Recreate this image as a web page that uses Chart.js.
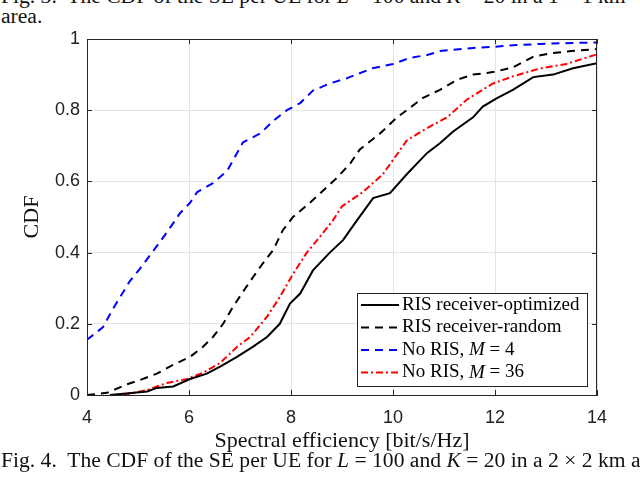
<!DOCTYPE html>
<html>
<head>
<meta charset="utf-8">
<script src="https://cdn.jsdelivr.net/npm/chart.js@4"></script>
<style>
  body { margin: 0; background: #fff; }
  #wrap { position: relative; width: 640px; height: 478px; overflow: hidden; }
  #cv { position: absolute; left: 0; top: 0; }
  .cap { position: absolute; left: 1px; white-space: nowrap; font-family: "Liberation Serif", serif; font-size: 21.6px; color: #111; }
</style>
</head>
<body>
<div id="wrap">
  <div class="cap" style="top:-16px">Fig. 3.&nbsp; The CDF of the SE per UE for <i>L</i> = 100 and <i>K</i> = 20 in a 1 × 1 km</div>
  <div class="cap" style="top:4px">area.</div>
  <canvas id="cv" width="640" height="478"></canvas>
  <div class="cap" style="top:448px">Fig. 4.&nbsp; The CDF of the SE per UE for <i>L</i> = 100 and <i>K</i> = 20 in a 2 × 2 km area.</div>
</div>
<script>
// values
const xOpt = [4.45, 5.18, 5.37, 5.69, 6.02, 6.35, 6.61, 6.94, 7.25, 7.53, 7.78, 7.98, 8.18, 8.43, 8.76, 9.02, 9.29, 9.61, 9.94, 10.27, 10.67, 10.92, 11.18, 11.57, 11.76, 12.04, 12.35, 12.75, 13.14, 13.53, 14];
const yOpt = [0, 0.01, 0.02, 0.024, 0.045, 0.06, 0.08, 0.107, 0.135, 0.163, 0.2, 0.257, 0.285, 0.35, 0.40, 0.435, 0.49, 0.553, 0.567, 0.62, 0.68, 0.707, 0.74, 0.78, 0.81, 0.834, 0.857, 0.893, 0.9, 0.918, 0.932];

const xRand = [4, 4.39, 4.78, 5.04, 5.37, 5.69, 6.02, 6.27, 6.47, 6.67, 6.86, 7.06, 7.25, 7.45, 7.65, 7.84, 8.04, 8.37, 8.9, 9.16, 9.35, 9.75, 10.08, 10.27, 10.59, 10.92, 11.25, 11.57, 11.96, 12.35, 12.75, 13.1, 13.5, 14];
const yRand = [0, 0.006, 0.03, 0.042, 0.06, 0.085, 0.107, 0.135, 0.163, 0.2, 0.247, 0.29, 0.33, 0.37, 0.407, 0.463, 0.5, 0.54, 0.61, 0.65, 0.69, 0.735, 0.78, 0.80, 0.835, 0.857, 0.885, 0.90, 0.907, 0.92, 0.95, 0.96, 0.966, 0.972];

const xM4 = [4, 4.31, 4.5, 4.84, 5.04, 5.43, 5.63, 5.82, 6.02, 6.16, 6.47, 6.75, 7.06, 7.4, 7.65, 7.92, 8.18, 8.43, 8.76, 9.1, 9.6, 10.0, 10.33, 10.67, 10.92, 11.57, 11.96, 12.43, 12.88, 13.53, 14];
const yM4 = [0.155, 0.19, 0.24, 0.32, 0.355, 0.43, 0.47, 0.51, 0.54, 0.57, 0.595, 0.63, 0.71, 0.735, 0.77, 0.80, 0.82, 0.855, 0.875, 0.89, 0.918, 0.93, 0.947, 0.955, 0.966, 0.975, 0.978, 0.983, 0.986, 0.989, 0.99];

const xM36 = [4.71, 5.18, 5.57, 5.96, 6.27, 6.61, 6.94, 7.2, 7.53, 7.78, 8.04, 8.31, 8.57, 8.82, 9.0, 9.41, 9.8, 10.0, 10.27, 10.67, 11.06, 11.45, 11.96, 12.35, 12.88, 13.4, 14];
const yM36 = [0, 0.014, 0.034, 0.045, 0.062, 0.09, 0.135, 0.163, 0.22, 0.275, 0.34, 0.40, 0.445, 0.49, 0.53, 0.57, 0.62, 0.66, 0.715, 0.75, 0.78, 0.83, 0.875, 0.895, 0.917, 0.93, 0.957];

const seriesNames = ['RIS receiver-optimized', 'RIS receiver-random', 'No RIS, M = 4', 'No RIS, M = 36'];

function pts(xs, ys) { return xs.map((x, i) => ({ x: x, y: ys[i] })); }

const serif = '"Liberation Serif", "Times New Roman", serif';
const sans = '"Liberation Sans", Arial, sans-serif';

// legend box inside the plot, MATLAB style
const boxLegend = {
  id: 'boxLegend',
  afterDraw(chart) {
    const ctx = chart.ctx;
    const x0 = 357, y0 = 293, w = 230, h = 93;
    ctx.save();
    ctx.fillStyle = '#fff';
    ctx.fillRect(x0, y0, w, h);
    ctx.strokeStyle = '#262626';
    ctx.lineWidth = 1;
    ctx.strokeRect(x0 + 0.5, y0 + 0.5, w, h);
    ctx.textBaseline = 'middle';
    chart.data.datasets.forEach((ds, i) => {
      const y = y0 + 12 + i * 22.5;
      ctx.strokeStyle = ds.borderColor;
      ctx.lineWidth = 2;
      ctx.setLineDash(ds.borderDash || []);
      ctx.beginPath();
      ctx.moveTo(x0 + 4, y);
      ctx.lineTo(x0 + 42, y);
      ctx.stroke();
      ctx.setLineDash([]);
      ctx.fillStyle = '#000';
      const parts = ds.label.split('M');
      let tx = x0 + 45;
      ctx.font = '19px ' + serif;
      ctx.fillText(parts[0], tx, y);
      if (parts.length > 1) {
        tx += ctx.measureText(parts[0]).width;
        ctx.font = 'italic 19px ' + serif;
        ctx.fillText('M', tx, y);
        tx += ctx.measureText('M').width;
        ctx.font = '19px ' + serif;
        ctx.fillText(parts[1], tx, y);
      }
    });
    ctx.restore();
  }
};

// inward tick marks on all four sides
const inTicks = {
  id: 'inTicks',
  afterDatasetsDraw(chart) {
    const ctx = chart.ctx, a = chart.chartArea;
    const xs = chart.scales.x, ys = chart.scales.y;
    ctx.save();
    ctx.strokeStyle = '#262626';
    ctx.lineWidth = 1;
    ctx.beginPath();
    xs.ticks.forEach(t => {
      const p = Math.round(xs.getPixelForValue(t.value)) + 0.5;
      ctx.moveTo(p, a.bottom); ctx.lineTo(p, a.bottom - 5);
      ctx.moveTo(p, a.top); ctx.lineTo(p, a.top + 5);
    });
    ys.ticks.forEach(t => {
      const p = Math.round(ys.getPixelForValue(t.value)) + 0.5;
      ctx.moveTo(a.left, p); ctx.lineTo(a.left + 5, p);
      ctx.moveTo(a.right, p); ctx.lineTo(a.right - 5, p);
    });
    ctx.stroke();
    ctx.strokeRect(a.left + 0.5, a.top + 0.5, a.right - a.left - 1, a.bottom - a.top);
    ctx.restore();
  }
};

const data = {
  datasets: [{
    label: seriesNames[0],
    data: pts(xOpt, yOpt),
    borderColor: '#000',
    borderWidth: 2
  }, {
    label: seriesNames[1],
    data: pts(xRand, yRand),
    borderColor: '#000',
    borderDash: [8, 6],
    borderWidth: 2
  }, {
    label: seriesNames[2],
    data: pts(xM4, yM4),
    borderColor: '#0000ff',
    borderDash: [8, 6],
    borderWidth: 2
  }, {
    label: seriesNames[3],
    data: pts(xM36, yM36),
    borderColor: '#ff0000',
    borderDash: [7, 3, 2, 3],
    borderWidth: 2
  }]
};

const config = {
  type: 'line',
  data: data,
  options: {
    responsive: false,
    animation: false,
    layout: { padding: { left: 0, top: 39, right: 43, bottom: 24 } },
    elements: { point: { radius: 0 }, line: { tension: 0 } },
    scales: {
      x: {
        type: 'linear',
        min: 4, max: 14,
        afterFit(s) { s.height = 59; },
        ticks: { stepSize: 2, color: '#222', font: { family: sans, size: 18 }, padding: 12 },
        grid: { color: '#e4e4e4', drawTicks: false },
        border: { color: '#262626' },
        title: { display: true, text: 'Spectral efficiency [bit/s/Hz]', color: '#111', font: { family: serif, size: 22 }, padding: 0 }
      },
      y: {
        min: 0, max: 1,
        afterFit(s) { s.width = 87; },
        ticks: {
          stepSize: 0.2, color: '#222', font: { family: sans, size: 18 }, padding: 7,
          callback: v => String(+v.toFixed(1))
        },
        grid: { color: '#e4e4e4', drawTicks: false },
        border: { color: '#262626' },
        title: { display: true, text: 'CDF', color: '#111', font: { family: serif, size: 22 }, padding: { top: 19, bottom: 0 } }
      }
    },
    plugins: {
      legend: { display: false },
      tooltip: { enabled: false }
    }
  },
  plugins: [inTicks, boxLegend]
};

const cdfChart = new Chart(document.getElementById('cv'), config);
</script>
</body>
</html>
